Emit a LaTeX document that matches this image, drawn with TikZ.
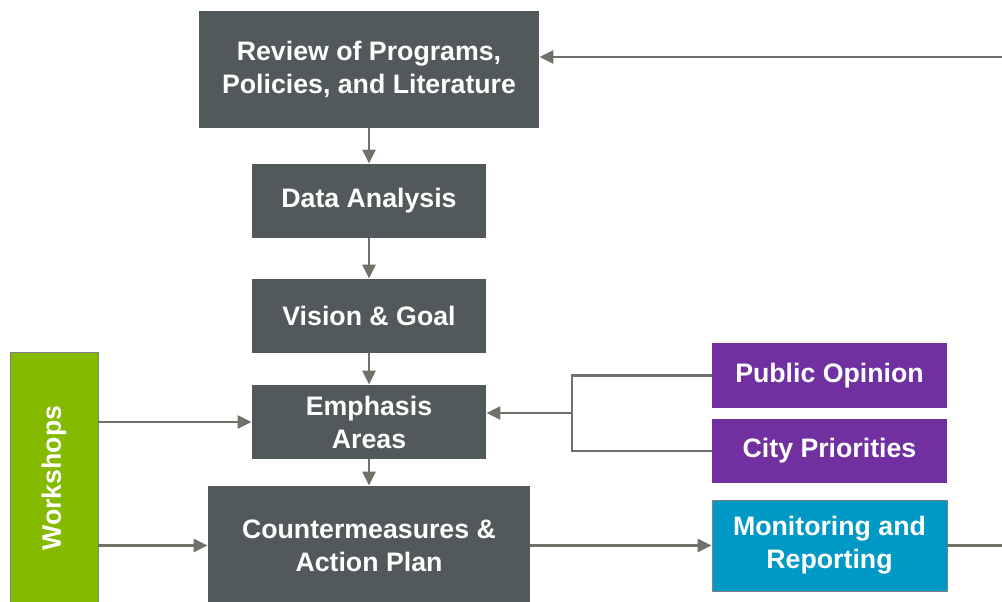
\documentclass[tikz,border=0pt]{standalone}
\usepackage{graphicx}
\usepackage{fontspec}
\setmainfont{Liberation Sans}
\usetikzlibrary{
positioning,
arrows.meta
}
\definecolor{boxgray}{RGB}{82,89,90}
\definecolor{linegray}{RGB}{112,114,106}
\definecolor{oppurple}{RGB}{112,48,160}
\definecolor{monblue}{RGB}{0,153,198}
\definecolor{wsgreen}{RGB}{132,186,0}
\tikzset{
stage/.style={
fill=boxgray,
text=white,
align=center,
inner sep=0pt,
font=\bfseries\fontsize{19}{23.5}\selectfont,
minimum width=5.85cm,
minimum height=1.85cm
},
inputbox/.style={
stage,
fill=oppurple,
minimum width=5.875cm
},
monbox/.style={
stage,
fill=monblue,
draw=gray,
line width=0.5pt
},
sidebox/.style={
stage,
fill=wsgreen,
draw=gray,
line width=0.5pt
},
link/.style={
draw=linegray,
line width=2.1pt
},
arrow/.style={
link,
-{Triangle[length=0.35cm,width=0.32cm]}
}
}

\begin{document}
\begin{tikzpicture}[x=0.025cm,y=-0.025cm]
\useasboundingbox (0,0) rectangle (1002,601);
\clip (0,0) rectangle (1002,601);

% main column
\node[stage, minimum width=8.5cm, minimum height=2.925cm] (review) at (369,69.5) {Review of Programs,\\Policies, and Literature};
\node[stage] (data) at (369,201) {Data Analysis};
\node[stage] (vision) at (369,316) {Vision \& Goal};
\node[stage] (emphasis) at (369,422) {Emphasis\\Areas};
\node[stage, minimum width=8.05cm, minimum height=2.975cm] (counter) at (369,545.5) {Countermeasures \&\\Action Plan};

% side inputs
\node[sidebox, minimum width=2.2cm, minimum height=6.3cm] (workshops) at (54,478) {\rotatebox{90}{Workshops}};
\node[inputbox, minimum height=1.625cm] (opinion) at (829.5,375.5) {Public Opinion};
\node[inputbox, minimum height=1.6cm] (priorities) at (829.5,451) {City Priorities};
\node[monbox, minimum width=5.875cm, minimum height=2.275cm] (monitor) at (829.5,545.5) {Monitoring and\\Reporting};

\coordinate (join) at (572,413);
\coordinate (loop) at (1040,57);

\draw[arrow] (review) -- (data);
\draw[arrow] (data) -- (vision);
\draw[arrow] (vision) -- (emphasis);
\draw[arrow] (emphasis) -- (counter);

\draw[arrow] (workshops.east |- emphasis) -- (emphasis.west);
\draw[arrow] (workshops.east |- counter) -- (counter.west);

\draw[link] (opinion.west) -| (join) |- (priorities.west);
\draw[arrow] (join) -- (join -| emphasis.east);

\draw[arrow] (counter) -- (monitor);
\draw[arrow] (monitor.east) -| (loop) -- (loop -| review.east);
\end{tikzpicture}
\end{document}
